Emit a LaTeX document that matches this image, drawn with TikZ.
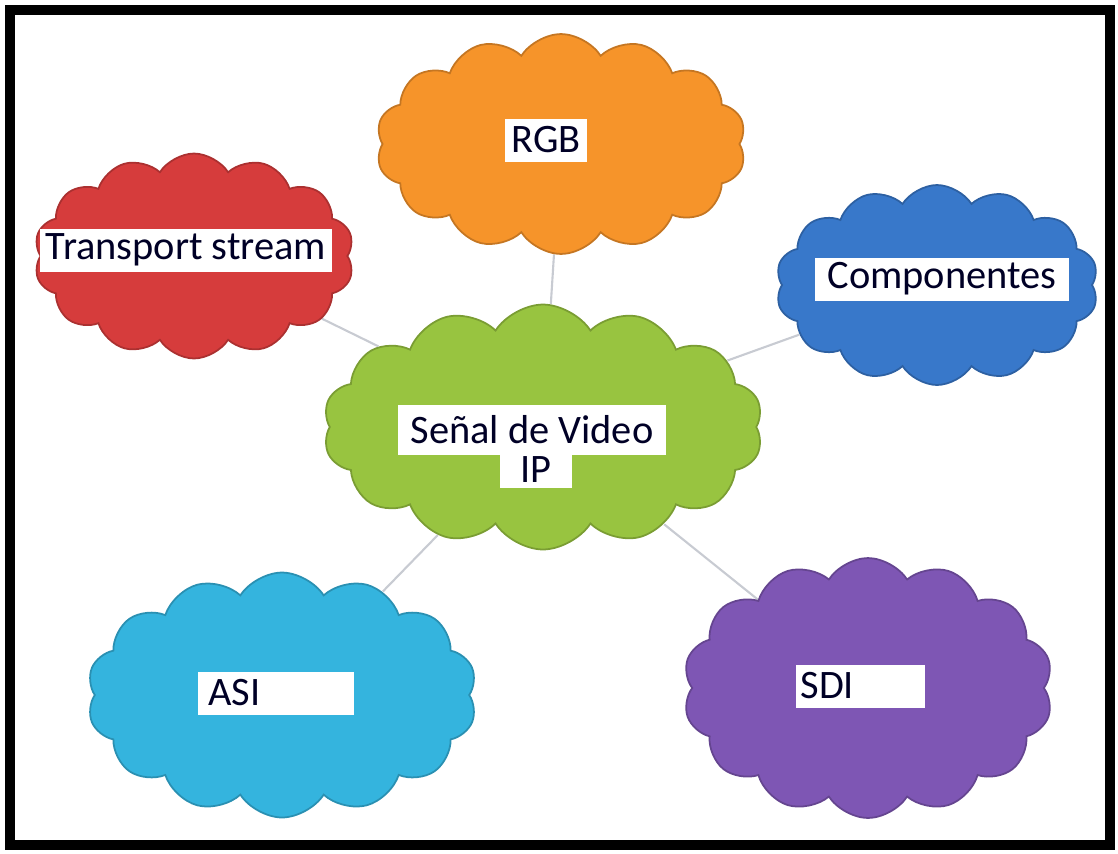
\documentclass[tikz,border=0pt]{standalone}
\usepackage{fontspec}
\setmainfont{Carlito}
\usetikzlibrary{shapes.symbols,backgrounds}
\definecolor{naranja}{RGB}{246,148,42}
\definecolor{rojo}{RGB}{214,60,60}
\definecolor{azul}{RGB}{56,120,202}
\definecolor{verde}{RGB}{152,196,64}
\definecolor{celeste}{RGB}{52,180,222}
\definecolor{morado}{RGB}{126,86,180}
\definecolor{gris}{RGB}{200,203,210}
\tikzset{
  nube/.style={cloud, cloud puffs=14, cloud puff arc=115, cloud ignores aspect,
    draw=#1!80!black, fill=#1, line width=1pt, inner sep=0pt},
  caja/.style={fill=white, inner sep=0pt, minimum height=0.86cm,
    font=\fontsize{23}{25}\selectfont, text=black!85!blue},
  enlace/.style={draw=gris, line width=1.2pt}
}
\begin{document}
\begin{tikzpicture}[x=0.02cm,y=-0.02cm]
			\useasboundingbox (0,0) rectangle (1118,853);
			\draw [line width=0.2cm] (10,10) rectangle (1110,845);
			% nubes
			\node [nube=naranja, minimum width=7.4cm, minimum height=4.4cm] (rgb) at (561,144) {};
			\node [nube=rojo, minimum width=6.4cm, minimum height=4.1cm] (ts) at (194,256) {};
			\node [nube=azul, minimum width=6.45cm, minimum height=4.0cm] (comp) at (937,285) {};
			\node [nube=verde, minimum width=8.8cm, minimum height=4.9cm] (senal) at (543,427) {};
			\node [nube=celeste, minimum width=7.8cm, minimum height=4.9cm] (asi) at (282,695) {};
			\node [nube=morado, minimum width=7.4cm, minimum height=5.2cm] (sdi) at (868,688) {};
			% enlaces
			\begin{pgfonlayer}{background}
			\foreach \n in {rgb,ts,comp,asi,sdi}{
				\draw [enlace] (senal)--(\n);
			}
			\end{pgfonlayer}
			% textos
			\node [caja, minimum width=1.64cm] (rgblbl) at (546,140) {RGB};
			\node [caja, minimum width=5.84cm] (tslbl) at (186,250) {Transport stream};
			\node [caja, minimum width=5.1cm] (complbl) at (942,279) {Componentes};
			\node [caja, minimum width=5.36cm, minimum height=1cm] (senallbl) at (532,430) {Señal de Video};
			\node [caja, minimum width=1.44cm, minimum height=0.72cm] (iplbl) at (536,470) {IP};
			\node [caja, minimum width=3.14cm, text width=2.7cm, align=left] (asilbl) at (276,693) {ASI};
			\node [caja, minimum width=2.58cm, text width=2.38cm, align=left] (sdilbl) at (860,686) {SDI};
			\end{tikzpicture}
\end{document}
